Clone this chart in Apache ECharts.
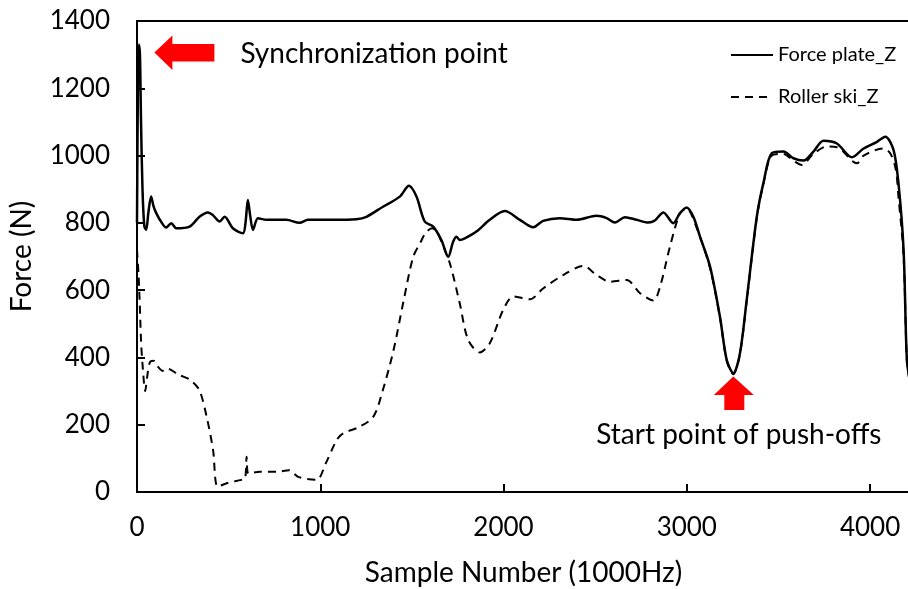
<!DOCTYPE html>
<html>
<head>
<meta charset="utf-8">
<script src="https://cdn.jsdelivr.net/npm/echarts@6/dist/echarts.min.js"></script>
<style>
html,body{margin:0;padding:0;background:#fff;}
#c{width:908px;height:589px;}
</style>
</head>
<body>
<div id="c"></div>
<script>
// ---- data ----
var forcePlateX = [0,5,10,16,22,30,40,50,62,77,90,105,132,159,187,214,287,341,387,414,451,478,523,578,592,605,618,633,660,706,815,887,933,1069,1197,1252,1342,1434,1484,1525,1570,1616,1661,1698,1725,1743,1761,1789,1852,1925,2007,2089,2162,2216,2307,2399,2508,2563,2608,2663,2726,2790,2826,2872,2926,2963,2999,3036,3072,3127,3181,3218,3254,3290,3327,3382,3418,3464,3527,3582,3637,3691,3746,3819,3901,3965,4038,4083,4128,4155,4183,4201,4218];
var forcePlateY = [800,1200,1330,1300,1100,900,790,779,830,878,850,829,803,786,799,784,789,818,831,823,804,818,784,769,800,868,820,779,814,809,809,800,809,809,811,818,848,878,910,878,804,789,749,699,744,759,749,754,774,809,835,809,787,806,814,809,821,814,801,817,809,801,807,831,799,829,846,818,759,670,521,392,353,412,571,818,918,1007,1012,992,985,1012,1044,1036,995,1021,1041,1056,1017,918,719,392,330];
var rollerSkiX = [0,8,15,22,30,45,55,70,90,110,140,160,230,290,340,380,415,440,490,570,590,598,608,670,760,830,880,980,1030,1090,1125,1215,1290,1340,1400,1452,1507,1545,1575,1610,1640,1660,1707,1761,1807,1871,1925,1998,2053,2144,2216,2326,2436,2508,2581,2672,2745,2818,2854,2908,2963,2999,3054,3127,3181,3218,3254,3290,3327,3382,3418,3464,3527,3582,3628,3691,3765,3819,3929,3965,4074,4110,4140,4155,4183,4201,4218];
var rollerSkiY = [720,650,560,450,380,300,340,385,390,375,360,368,348,333,303,224,125,16,26,36,40,105,55,60,60,65,45,36,85,155,174,194,224,300,422,561,699,740,770,784,770,745,680,561,452,415,442,541,581,573,605,645,672,645,625,630,591,569,610,729,829,843,785,665,518,390,350,410,568,815,915,1000,1005,985,972,1005,1027,1025,977,1000,1021,1007,960,878,700,392,320];
var seriesNames = ['Force plate_Z', 'Roller ski_Z'];
var xTicks = [0, 1000, 2000, 3000, 4000];
var yTicks = [0, 200, 400, 600, 800, 1000, 1200, 1400];
var xTitle = 'Sample Number (1000Hz)';
var yTitle = 'Force (N)';
var syncLabel = 'Synchronization point';
var pushLabel = 'Start point of push-offs';
var syncPoint = [95, 1306];   // tip of the "synchronization" arrow
var pushPoint = [3254, 343];  // tip of the "push-off" arrow

function pairs(xs, ys){ return xs.map(function(x,i){ return [x, ys[i]]; }); }

var FONT = 'Lato';
var chart = echarts.init(document.getElementById('c'), null, {renderer:'canvas'});
var option = {
  animation: false,
  backgroundColor: '#ffffff',
  textStyle: {fontFamily: FONT},
  grid: {left: 137, top: 21, right: -2, bottom: 97, containLabel: false, outerBoundsMode: 'none',
         show: true, borderColor: '#000', borderWidth: 2, backgroundColor: 'transparent'},
  legend: {
    left: 725, top: 40, orient: 'vertical', itemWidth: 42, itemHeight: 14, itemGap: 22,
    textStyle: {fontFamily: FONT, fontSize: 20, color: '#000'},
    itemStyle: {color: 'transparent', borderColor: 'transparent', borderWidth: 0},
    data: seriesNames
  },
  xAxis: {
    type: 'value', min: xTicks[0], max: 4218, interval: 1000,
    name: xTitle, nameLocation: 'middle', nameGap: 67,
    nameTextStyle: {fontFamily: FONT, fontSize: 28, color: '#000'},
    axisLine: {show: true, lineStyle: {color: '#000', width: 2}},
    axisTick: {show: true, inside: true, length: 8, lineStyle: {color: '#000', width: 2}},
    axisLabel: {fontFamily: FONT, fontSize: 26, color: '#000', margin: 23,
                formatter: function(v){ return String(v); }},
    splitLine: {show: false}
  },
  yAxis: {
    type: 'value', min: yTicks[0], max: yTicks[yTicks.length-1], interval: 200,
    name: yTitle, nameLocation: 'middle', nameGap: 101, nameRotate: 90,
    nameTextStyle: {fontFamily: FONT, fontSize: 28, color: '#000'},
    axisLine: {show: true, lineStyle: {color: '#000', width: 2}},
    axisTick: {show: true, inside: true, length: 8, lineStyle: {color: '#000', width: 2}},
    axisLabel: {fontFamily: FONT, fontSize: 26, color: '#000', margin: 27,
                formatter: function(v){ return String(v); }},
    splitLine: {show: false}
  },
  series: [{
    name: seriesNames[0], type: 'line', data: pairs(forcePlateX, forcePlateY),
    symbol: 'none', smooth: 0.3,
    lineStyle: {color: '#000', width: 2.5, type: 'solid'}, itemStyle: {color: '#000'}, z: 3
  },{
    name: seriesNames[1], type: 'line', data: pairs(rollerSkiX, rollerSkiY),
    symbol: 'none', smooth: 0.3,
    lineStyle: {color: '#000', width: 2, type: [8, 6]}, itemStyle: {color: '#000'}, z: 2
  }]
};
chart.setOption(option);

var s = chart.convertToPixel({gridIndex: 0}, syncPoint);
var p = chart.convertToPixel({gridIndex: 0}, pushPoint);
chart.setOption({
  graphic: [
    {type: 'polygon', shape: {points: [[s[0], s[1]], [s[0]+18, s[1]-17], [s[0]+18, s[1]-8.5], [s[0]+60, s[1]-8.5], [s[0]+60, s[1]+9], [s[0]+18, s[1]+9], [s[0]+18, s[1]+17.5]]}, style: {fill: '#ff0000'}, z: 10},
    {type: 'text', x: s[0] + 86, y: s[1] + 1, style: {text: syncLabel, font: '28px ' + FONT, fill: '#000', align: 'left', verticalAlign: 'middle'}, z: 10},
    {type: 'polygon', shape: {points: [[p[0], p[1]], [p[0]+20.5, p[1]+18.5], [p[0]+11, p[1]+18.5], [p[0]+11, p[1]+33.5], [p[0]-9, p[1]+33.5], [p[0]-9, p[1]+18.5], [p[0]-19.5, p[1]+18.5]]}, style: {fill: '#ff0000'}, z: 10},
    {type: 'text', x: p[0] + 5.5, y: p[1] + 58, style: {text: pushLabel, font: '28px ' + FONT, fill: '#000', align: 'center', verticalAlign: 'middle'}, z: 10}
  ]
});
</script>
</body>
</html>
